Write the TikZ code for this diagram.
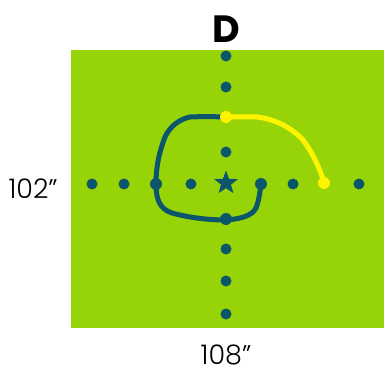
\documentclass[tikz,border=0pt]{standalone}
\usepackage{fontspec}
\setmainfont{Poppins}
\newfontfamily\lightfont{Poppins}[UprightFont={* Light}]
\usetikzlibrary{shapes.geometric}
\definecolor{fieldgreen}{RGB}{150,212,8}
\definecolor{dotblue}{RGB}{12,86,108}
\definecolor{pathyellow}{RGB}{255,244,0}
\tikzset{
  dotnode/.style={circle,fill=dotblue,inner sep=0pt,minimum size=11pt},
  bigdot/.style={circle,fill=dotblue,inner sep=0pt,minimum size=12pt},
  ydot/.style={circle,fill=pathyellow,inner sep=0pt,minimum size=12pt},
  route/.style={line width=5pt,line cap=round,line join=round},
  lbl/.style={font=\lightfont\fontsize{27}{30}\selectfont,text=black}
}
\begin{document}
\begin{tikzpicture}[x=1pt,y=-1pt]
\useasboundingbox (0,0) rectangle (386,377);
\fill[white] (0,0) rectangle (386,377);
\fill[fieldgreen] (71,50) rectangle (384,328);
% vertical line of dots
\node[dotnode] (v1) at (226,56) {};
\node[dotnode] (v2) at (226,87) {};
\node[dotnode] (v4) at (226,152) {};
\node[dotnode] (v7) at (226,249) {};
\node[dotnode] (v8) at (226,281) {};
\node[dotnode] (v9) at (226,314) {};
% horizontal line of dots
\node[dotnode] (h1) at (92,184) {};
\node[dotnode] (h2) at (124,184) {};
\node[dotnode] (h4) at (191,184) {};
\node[dotnode] (h7) at (293,184) {};
\node[dotnode] (h9) at (359,184) {};
\node[star,star points=5,star point ratio=2.4,fill=dotblue,inner sep=0pt,minimum size=25pt] (c) at (226,183) {};
% routes
\draw[route,dotblue] (226,117) -- (205,116.5) -- (190,117) .. controls (180,119) and (170,126) .. (165,137)
  .. controls (160,150) and (156,165) .. (156,184) .. controls (156,200) and (160,209) .. (172,213)
  .. controls (190,218) and (210,220) .. (226,220) .. controls (240,219) and (252,216) .. (256,208)
  .. controls (259,200) and (260,192) .. (261,184);
\draw[route,pathyellow] (226,117) -- (257,117) .. controls (275,119) and (292,128) .. (303,140)
  .. controls (312,152) and (320,168) .. (324,183);
\node[bigdot] (h3) at (156,184) {};
\node[bigdot] (h6) at (261,184) {};
\node[bigdot] (v6) at (226,219) {};
\node[ydot] (v3) at (226,117) {};
\node[ydot] (h8) at (324,183) {};
% labels
\node[font=\fontsize{38}{40}\bfseries\selectfont] (tD) at (226,29) {D};
\node[lbl,anchor=west] (t102) at (5,189) {102”};
\node[lbl] (t108) at (226,355) {108”};
\end{tikzpicture}
\end{document}
